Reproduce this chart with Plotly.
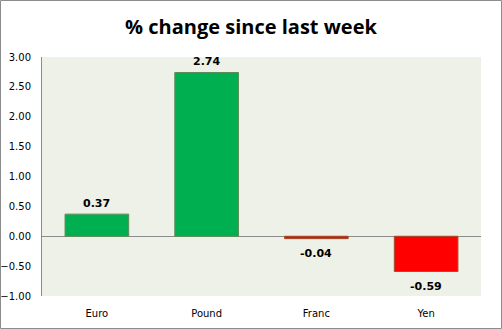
import plotly.graph_objects as go

categories = ["Euro", "Pound", "Franc", "Yen"]
changes = [0.37, 2.74, -0.04, -0.59]
tick_vals = [-1.0, -0.5, 0.0, 0.5, 1.0, 1.5, 2.0, 2.5, 3.0]

W, H = 502, 329
L, R, T, B = 42, 21, 57, 33

bar_colors = ["#00B050" if v >= 0 else "#FF0000" for v in changes]
edge_colors = ["#5B8C5A" if v >= 0 else "#A0522D" for v in changes]

fig = go.Figure(go.Bar(
    x=categories,
    y=changes,
    width=0.58,
    marker=dict(color=bar_colors, line=dict(color=edge_colors, width=1)),
    hoverinfo="x+y",
))

# value labels above positive bars, below negative ones
for cat, v in zip(categories, changes):
    fig.add_annotation(
        x=cat, y=v, text=f"<b>{v:.2f}</b>", showarrow=False,
        yanchor="middle", yshift=11 if v >= 0 else -15,
        font=dict(family="DejaVu Sans", size=11, color="#000000"),
    )

pw, ph = W - L - R, H - T - B
fig.add_shape(
    type="rect", xref="paper", yref="paper",
    x0=-(L - 0.5) / pw, x1=1 + (R - 0.5) / pw,
    y0=-(B - 0.5) / ph, y1=1 + (T - 0.5) / ph,
    line=dict(color="#8C8C8C", width=1), layer="below",
)

fig.update_layout(
    width=W, height=H,
    margin=dict(l=L, r=R, t=T, b=B, autoexpand=False),
    paper_bgcolor="#FFFFFF",
    plot_bgcolor="#EEF1E8",
    showlegend=False,
    title=dict(
        text="<b>% change since last week</b>",
        x=0.5, xref="container", xanchor="center",
        y=1 - 27 / H, yanchor="middle",
        font=dict(family="Open Sans", size=20, color="#000000"),
    ),
    xaxis=dict(
        showgrid=False, showline=False, ticks="", automargin=False,
        tickfont=dict(family="DejaVu Sans", size=10, color="#000000"),
        ticklabelstandoff=10,
    ),
    yaxis=dict(
        range=[-1.0, 3.0],
        tickvals=tick_vals,
        tickformat=".2f",
        showgrid=False, automargin=False,
        showline=True, linecolor="#8C8C8C", linewidth=1,
        ticks="",
        ticklabelstandoff=8,
        zeroline=True, zerolinecolor="#8C8C8C", zerolinewidth=1,
        tickfont=dict(family="DejaVu Sans", size=10, color="#000000"),
    ),
    font=dict(family="DejaVu Sans"),
)

fig.write_html("out.html")
